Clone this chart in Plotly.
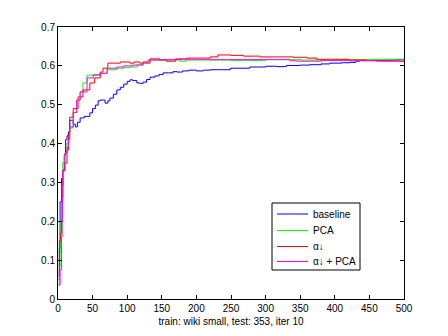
import plotly.graph_objects as go

# baseline
base_x = [1, 2, 3, 5, 6, 7, 9, 11, 13, 15, 17, 20, 22, 25, 28, 32, 38, 46, 50, 54, 58, 61, 65, 68, 72, 75, 80, 85, 90, 95, 100,
          104, 108, 114, 118, 123, 128, 133, 140, 146, 152, 160, 166, 172, 180, 189, 200, 210, 220, 235, 249, 263, 277, 290,
          300, 316, 330, 350, 364, 380, 393, 410, 422, 430, 436, 450, 470, 485, 500]
base_y = [0.05, 0.13, 0.25, 0.31, 0.29, 0.33, 0.37, 0.41, 0.42, 0.43, 0.46, 0.46, 0.45, 0.443, 0.455, 0.466, 0.47, 0.479, 0.49,
          0.499, 0.51, 0.512, 0.512, 0.504, 0.51, 0.517, 0.527, 0.538, 0.545, 0.553, 0.56, 0.564, 0.562, 0.556, 0.555, 0.558,
          0.565, 0.571, 0.574, 0.578, 0.582, 0.582, 0.585, 0.584, 0.587, 0.589, 0.587, 0.589, 0.59, 0.59, 0.594, 0.594, 0.597,
          0.597, 0.599, 0.598, 0.601, 0.602, 0.603, 0.605, 0.607, 0.608, 0.609, 0.612, 0.614, 0.614, 0.615, 0.616, 0.613]

# PCA
pca_x = [1, 2, 3, 4, 6, 7, 10, 13, 15, 17, 22, 27, 32, 36, 42, 51, 61, 71, 85, 95, 104, 114, 123, 133, 150, 165, 176, 185,
         200, 250, 300, 350, 400, 450, 500]
pca_y = [0.035, 0.082, 0.12, 0.203, 0.3, 0.352, 0.375, 0.401, 0.415, 0.44, 0.48, 0.512, 0.533, 0.556, 0.576, 0.578, 0.58, 0.59,
         0.594, 0.596, 0.597, 0.603, 0.61, 0.615, 0.615, 0.615, 0.612, 0.615, 0.615, 0.614, 0.616, 0.615, 0.616, 0.617, 0.617]

# alpha down
alpha_x = [1, 2, 4, 5, 6, 7, 10, 13, 15, 17, 22, 29, 36, 46, 53, 61, 65, 72, 78, 90, 104, 110, 118, 133, 147, 157, 170, 186,
           200, 220, 231, 250, 268, 292, 316, 340, 360, 374, 393, 420, 446, 470, 494, 500]
alpha_y = [0.06, 0.15, 0.17, 0.196, 0.262, 0.332, 0.35, 0.383, 0.427, 0.468, 0.49, 0.52, 0.538, 0.556, 0.569, 0.584, 0.594,
           0.607, 0.607, 0.61, 0.607, 0.61, 0.607, 0.618, 0.615, 0.612, 0.618, 0.62, 0.62, 0.623, 0.628, 0.627, 0.625, 0.623,
           0.623, 0.622, 0.62, 0.617, 0.617, 0.615, 0.614, 0.613, 0.612, 0.612]

# alpha down + PCA
ap_x = [1, 3, 5, 6, 7, 10, 13, 15, 17, 22, 27, 32, 42, 51, 61, 71, 85, 95, 108, 123, 130, 150, 180, 220, 260, 300, 335, 345,
        360, 380, 420, 460, 500]
ap_y = [0.036, 0.075, 0.16, 0.25, 0.33, 0.376, 0.39, 0.41, 0.443, 0.48, 0.512, 0.533, 0.569, 0.576, 0.581, 0.594, 0.597, 0.6,
        0.602, 0.61, 0.615, 0.616, 0.617, 0.616, 0.616, 0.616, 0.613, 0.612, 0.612, 0.614, 0.613, 0.612, 0.61]

x_ticks = [0, 50, 100, 150, 200, 250, 300, 350, 400, 450, 500]
y_ticks = [0, 0.1, 0.2, 0.3, 0.4, 0.5, 0.6, 0.7]
y_labels = ["0", "0.1", "0.2", "0.3", "0.4", "0.5", "0.6", "0.7"]

names = ["baseline", "PCA", "α↓", "α↓ + PCA"]
colors = ["#0000FF", "#00FF00", "#FF0000", "#FF00FF"]
xs_all = [base_x, pca_x, alpha_x, ap_x]
ys_all = [base_y, pca_y, alpha_y, ap_y]

fig = go.Figure()
for name, xs, ys, col in zip(names, xs_all, ys_all, colors):
    fig.add_trace(go.Scatter(x=xs, y=ys, mode="lines", name=name, showlegend=False,
                             line=dict(color=col, width=1, shape="hv")))

axis_common = dict(showline=True, linecolor="black", linewidth=1, mirror="ticks", ticks="inside", ticklen=4,
                   tickcolor="black", showgrid=False, zeroline=False, tickfont=dict(size=10, color="black"))

# manual legend box (MATLAB-style compact legend)
L, T, W, H = 58, 27, 346, 272
def px(x):
    return (x - L) / W
def py(y):
    return (T + H - y) / H

shapes = [dict(type="rect", xref="paper", yref="paper", x0=px(272), x1=px(360), y0=py(270), y1=py(203),
               line=dict(color="black", width=1), fillcolor="white", layer="above")]
annotations = []
row_y = [214, 230.5, 246.5, 261.5]
for name, col, ry in zip(names, colors, row_y):
    shapes.append(dict(type="line", xref="paper", yref="paper", x0=px(277), x1=px(308), y0=py(ry), y1=py(ry),
                       line=dict(color=col, width=1), layer="above"))
    annotations.append(dict(xref="paper", yref="paper", x=px(311), y=py(ry), text=name, showarrow=False,
                            xanchor="left", yanchor="middle", font=dict(size=10, color="black")))

fig.update_layout(
    width=448, height=336,
    margin=dict(l=58, r=44, t=27, b=37),
    paper_bgcolor="white", plot_bgcolor="white",
    font=dict(family="Liberation Sans, Arial, sans-serif", size=10, color="black"),
    xaxis=dict(range=[0, 500], tickvals=x_ticks, **axis_common,
               title=dict(text="train: wiki small, test: 353, iter 10", font=dict(size=10), standoff=4)),
    yaxis=dict(range=[0, 0.7], tickvals=y_ticks, ticktext=y_labels, **axis_common),
    shapes=shapes,
    annotations=annotations,
    showlegend=False,
)

fig.write_html("out.html")
